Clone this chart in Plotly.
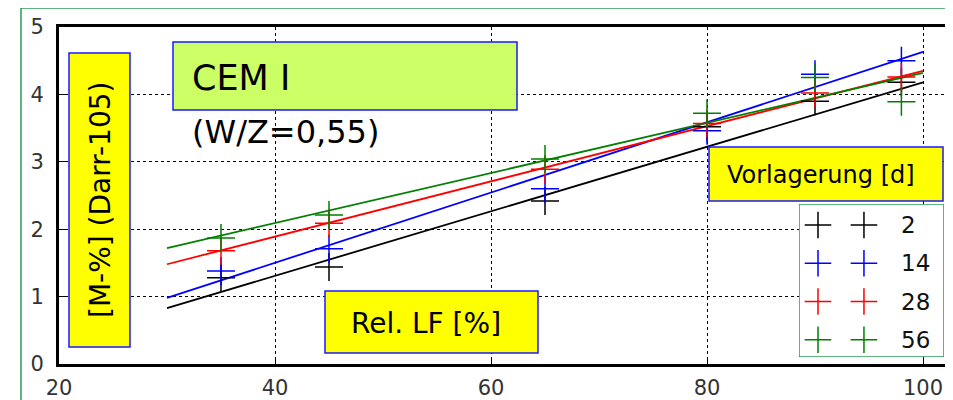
import plotly.graph_objects as go

# ---------------- data ----------------
rel_lf = [35, 45, 65, 80, 90, 98]
series_names = ["2", "14", "28", "56"]
vals_2 = [1.28, 1.44, 2.42, 3.52, 3.90, 4.18]
vals_14 = [1.38, 1.71, 2.60, 3.46, 4.30, 4.50]
vals_28 = [1.68, 2.09, 2.89, 3.57, 4.02, 4.26]
vals_56 = [1.87, 2.21, 3.04, 3.72, 4.25, 3.89]
fit_x = [30, 100]
fit_2 = [0.83, 4.18]
fit_14 = [0.98, 4.63]
fit_28 = [1.48, 4.35]
fit_56 = [1.72, 4.32]
x_ticks = [20, 40, 60, 80, 100]
y_ticks = [0, 1, 2, 3, 4, 5]

colors = ["#000000", "#0000ff", "#ff0000", "#008000"]
all_vals = [vals_2, vals_14, vals_28, vals_56]
all_fits = [fit_2, fit_14, fit_28, fit_56]

# ---------------- layout helpers (screen pixel -> paper) ----------------
OFF = 8                      # default page body margin
W, H = 953 - OFF, 400 - OFF  # figure size so it ends at the window edge
PL, PR, PT, PB = 59, 953, 27, 364   # plot area in screen pixels
def px(x):
    return (x - PL) / (PR - PL)
def py(y):
    return (PB - y) / (PB - PT)

fig = go.Figure()

for name, vals, fit, col in zip(series_names, all_vals, all_fits, colors):
    fig.add_trace(go.Scatter(x=fit_x, y=fit, mode="lines",
                             line=dict(color=col, width=1.8),
                             showlegend=False, hoverinfo="skip"))
for name, vals, fit, col in zip(series_names, all_vals, all_fits, colors):
    fig.add_trace(go.Scatter(x=rel_lf, y=vals, mode="markers", name=name,
                             marker=dict(symbol="cross-thin", size=20, color=col,
                                         line=dict(color=col, width=1.5)),
                             showlegend=False))

# ---------------- manual legend (two keys per entry) ----------------
fig.add_trace(go.Scatter(x=[0, 1, 1, 0, 0], y=[0, 0, 4, 4, 0], mode="lines",
                         fill="toself", fillcolor="white",
                         line=dict(color="#2a9a55", width=1.5),
                         xaxis="x2", yaxis="y2", showlegend=False, hoverinfo="skip"))
key_x = [0.131, 0.448]
for i, (name, col) in enumerate(zip(series_names, colors)):
    fig.add_trace(go.Scatter(x=key_x, y=[i + 0.55, i + 0.55], mode="markers",
                             marker=dict(symbol="cross-thin", size=19, color=col,
                                         line=dict(color=col, width=1.5)),
                             xaxis="x2", yaxis="y2", showlegend=False, hoverinfo="skip"))
    fig.add_annotation(x=0.69, y=i + 0.55, xref="x2", yref="y2", text=name,
                       showarrow=False, xanchor="left", yanchor="middle",
                       font=dict(family="DejaVu Sans", size=23, color="#111111"))

axis_font = dict(family="DejaVu Sans", size=21, color="#333333")
x_right = 20 + (PR - PL) / 10.8

fig.update_layout(
    width=W, height=H,
    margin=dict(l=PL - OFF, r=953 - PR, t=PT - OFF, b=400 - PB),
    paper_bgcolor="white", plot_bgcolor="white",
    xaxis=dict(range=[20, x_right], tickvals=x_ticks, ticktext=[str(v) for v in x_ticks],
               showgrid=True, gridcolor="black", griddash="dot", gridwidth=1.2,
               showline=True, linecolor="black", linewidth=3, mirror=True,
               ticks="inside", ticklen=7, tickwidth=1.2, tickcolor="black",
               zeroline=False, tickfont=axis_font, ticklabelstandoff=3),
    yaxis=dict(range=[0, 5], tickvals=y_ticks, ticktext=[str(v) for v in y_ticks],
               showgrid=True, gridcolor="black", griddash="dot", gridwidth=1.2,
               showline=True, linecolor="black", linewidth=3, mirror=False,
               ticks="inside", ticklen=7, tickwidth=1.2, tickcolor="black",
               zeroline=False, tickfont=axis_font, ticklabelstandoff=8),
    xaxis2=dict(domain=[px(799), px(944)], range=[0, 1], anchor="y2",
                visible=False, fixedrange=True),
    yaxis2=dict(domain=[py(357), py(204)], range=[4, 0], anchor="x2",
                visible=False, fixedrange=True),
)

# ---------------- boxes ----------------
def box(x0, y0, x1, y1, fill, line, lw=1.5):
    fig.add_shape(type="rect", xref="paper", yref="paper",
                  x0=px(x0), x1=px(x1), y0=py(y1), y1=py(y0),
                  fillcolor=fill, line=dict(color=line, width=lw), layer="above")

# outer green frame
fig.add_shape(type="rect", xref="paper", yref="paper",
              x0=px(21), x1=px(1100), y0=py(600), y1=py(8),
              line=dict(color="#2a9a55", width=1.5), layer="above")

box(69, 53, 130, 347, "#ffff00", "#1a1aff")     # y label box
box(173, 42, 517, 110, "#ccff66", "#1a1aff")    # CEM I
box(325, 291, 538, 353, "#ffff00", "#1a1aff")   # Rel. LF
box(709, 147, 943, 201, "#ffff00", "#1a1aff")   # Vorlagerung

def text(x, y, s, size, anchor="left", angle=0):
    fig.add_annotation(x=px(x), y=py(y), xref="paper", yref="paper", text=s,
                       showarrow=False, xanchor=anchor, yanchor="middle",
                       textangle=angle,
                       font=dict(family="DejaVu Sans", size=size, color="black"))

text(100, 200, "[M-%] (Darr-105)", 28, anchor="center", angle=-90)
text(190, 78, "CEM I", 35)
text(190, 132, "(W/Z=0,55)", 32)
text(349, 323, "Rel. LF [%]", 28)
text(725, 175, "Vorlagerung [d]", 24)

fig.write_html("out.html")
